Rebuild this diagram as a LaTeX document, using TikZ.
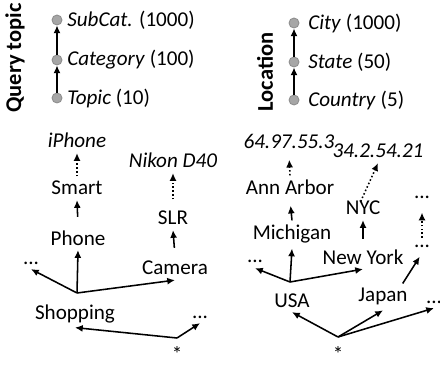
\documentclass[tikz,border=0pt]{standalone}
\usepackage{fontspec}
\setmainfont{Carlito}
\usetikzlibrary{arrows.meta}
\definecolor{dotfill}{HTML}{A6A6A6}
\definecolor{dotline}{HTML}{8C8C8C}
\tikzset{
  word/.style={anchor=base,font=\fontsize{15}{17}\selectfont},
  head/.style={rotate=90,font=\bfseries\fontsize{16}{18}\selectfont},
  lvl/.style={circle,fill=dotfill,draw=dotline,line width=0.6pt,minimum size=0.25cm,inner sep=0pt},
  lvltext/.style={anchor=west,inner sep=0pt,font=\fontsize{15}{17}\selectfont},
  arr/.style={-{Latex[length=5.5pt,width=5pt]},line width=1.1pt},
  darr/.style={arr,dash pattern=on 1.1pt off 1.6pt}
}
\begin{document}
\begin{tikzpicture}[x=0.025cm,y=-0.025cm]
      \useasboundingbox (0,0) rectangle (440,366);
      % hierarchy keys
      \node[head] (qtopic) at (15,58){Query topic};
      \node[lvl] (subcat) at (57,20){};
      \node[lvl] (categ) at (57,60){};
      \node[lvl] (topic) at (57,98){};
      \node[lvltext] at (67,20){\textit{SubCat.} (1000)};
      \node[lvltext] at (67,60){\textit{Category} (100)};
      \node[lvltext] at (67,98){\textit{Topic} (10)};
      \draw[arr] (topic) -- (categ);
      \draw[arr] (categ) -- (subcat);

      \node[head] (loc) at (265,72){Location};
      \node[lvl] (city) at (294,23){};
      \node[lvl] (state) at (294,62){};
      \node[lvl] (country) at (294,100){};
      \node[lvltext] at (308,23){\textit{City} (1000)};
      \node[lvltext] at (308,62){\textit{State} (50)};
      \node[lvltext] at (308,100){\textit{Country} (5)};
      \draw[arr] (country) -- (state);
      \draw[arr] (state) -- (city);

      % query topic tree
      \node[word] (iphone) at (77,148){\textit{iPhone}};
      \node[word] (nikon) at (173,168){\textit{Nikon D40}};
      \node[word] (smart) at (77,195){Smart};
      \node[word] (slr) at (173,225){SLR};
      \node[word] (phone) at (78,245){Phone};
      \node[word] (camera) at (175,275){Camera};
      \node[word] (shopdots) at (31,264){...};
      \node[word] (shopping) at (75,319){Shopping};
      \node[word] (stardots) at (200,318){...};
      \node[word,inner sep=1pt] (star) at (177,361){*};
      \coordinate (shopfan) at (77,293);
      \coordinate (starfan) at (177,338);
      \draw[arr] (shopfan) -- (shopdots.south);
      \draw[arr] (shopfan) -- (phone.south);
      \draw[arr] (shopfan) -- (camera.south);
      \draw[arr,shorten <=6pt] (phone.north) -- (smart.south);
      \draw[darr] (smart.north) -- (iphone.south);
      \draw[arr,shorten <=6pt] (camera.north) -- (slr.south);
      \draw[darr,shorten <=5pt] (slr.north) -- (nikon.south);
      \draw[arr] (starfan) -- (shopping.south);
      \draw[arr] (starfan) -- (stardots.south);

      % location tree
      \node[word] (ipone) at (289,149){\textit{64.97.55.3}};
      \node[word] (iptwo) at (378,158){\textit{34.2.54.21}};
      \node[word] (annarbor) at (290,195){Ann Arbor};
      \node[word] (nyc) at (363,215){NYC};
      \node[word] (topdots) at (422,199){...};
      \node[word] (michigan) at (292,240){Michigan};
      \node[word] (middots) at (422,248){...};
      \node[word] (usadots) at (255,263){...};
      \node[word] (newyork) at (363,264){New York};
      \node[word] (usa) at (292,307){USA};
      \node[word] (japan) at (383,302){Japan};
      \node[word] (enddots) at (434,303){...};
      \node[word,inner sep=1pt] (startwo) at (338,361){*};
      \coordinate (usafan) at (290,282);
      \coordinate (startwofan) at (338,337);
      \draw[arr] (usafan) -- (usadots.south);
      \draw[arr] (usafan) -- (michigan.south);
      \draw[arr] (usafan) -- (newyork.south);
      \draw[arr,shorten >=4pt] (michigan.north) -- (annarbor.south);
      \draw[darr,shorten >=4pt] (annarbor.north) -- (ipone.south);
      \draw[arr,shorten <=4pt] (newyork.north) -- (nyc.south);
      \draw[darr,shorten <=-4pt] (nyc.north) -- (iptwo.south);
      \draw[arr,shorten >=3pt] ([xshift=-7pt]japan.north east) -- (middots.south);
      \draw[darr,shorten <=2pt,shorten >=6pt] (middots.north) -- (topdots.south);
      \draw[arr] (startwofan) -- (usa.south);
      \draw[arr] (startwofan) -- (japan.south);
      \draw[arr] (startwofan) -- (enddots.south);
    \end{tikzpicture}
\end{document}
